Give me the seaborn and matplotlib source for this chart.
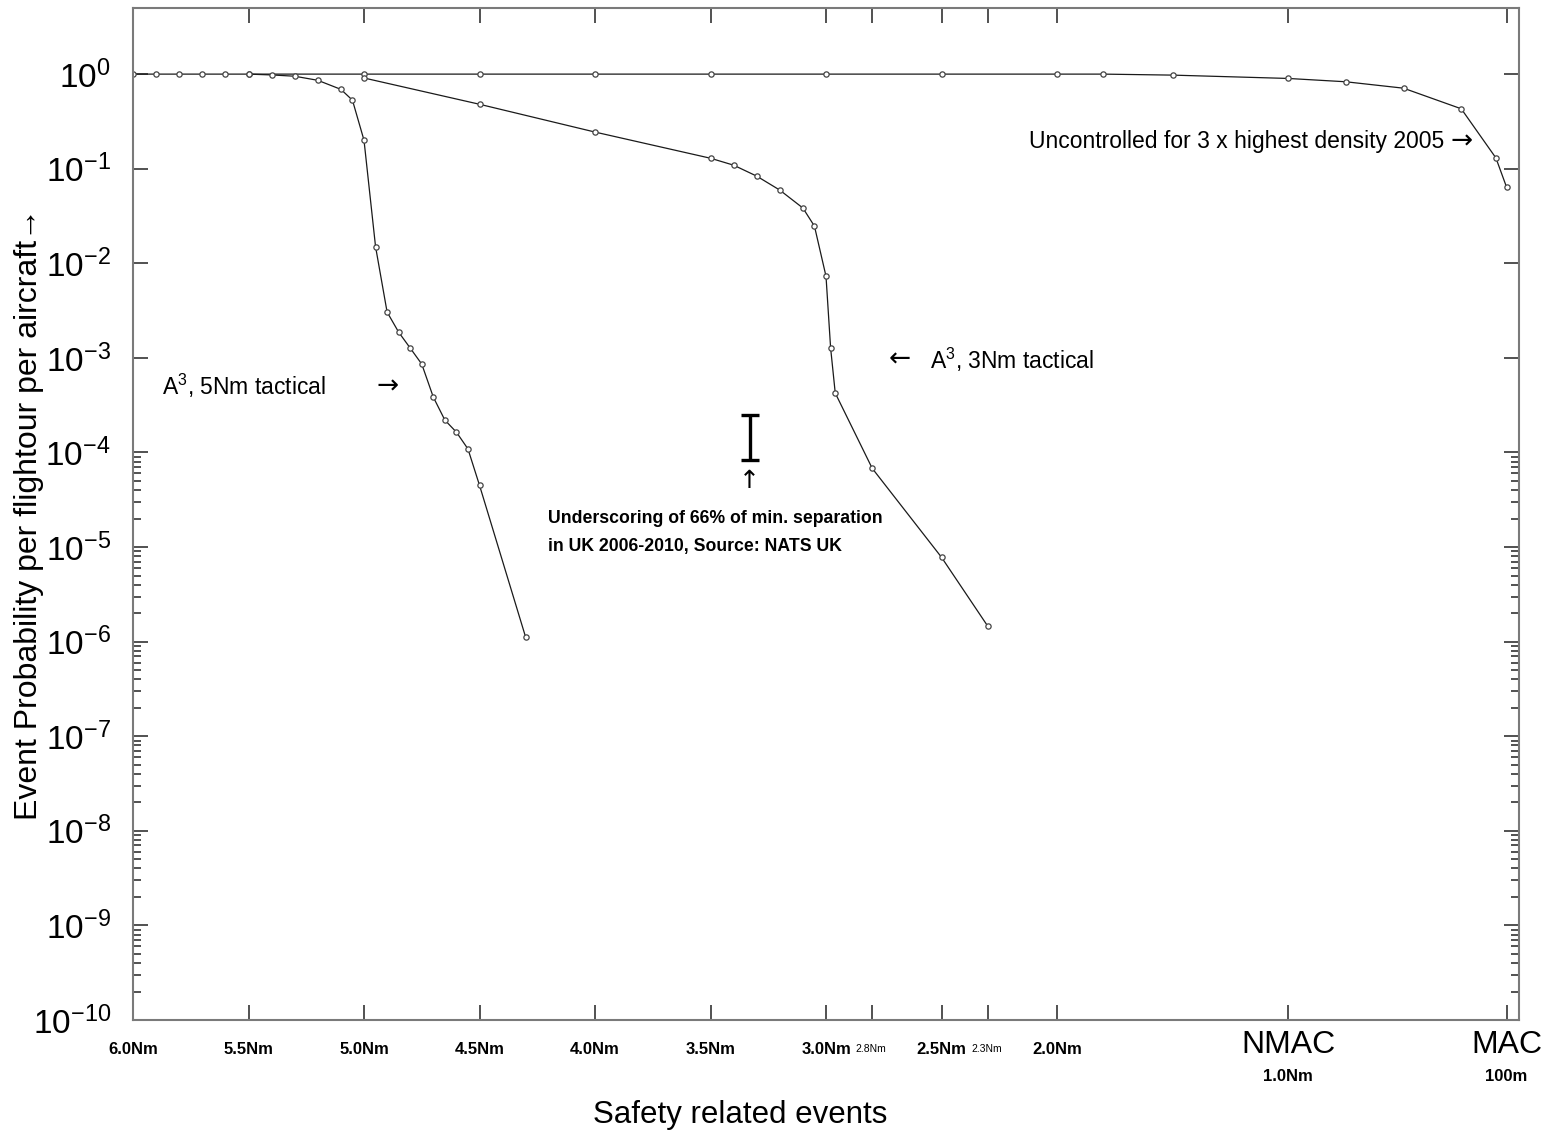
import numpy as np
import pandas as pd
import matplotlib
matplotlib.use("Agg")
import matplotlib.pyplot as plt
import seaborn as sns
from matplotlib.ticker import FixedLocator, NullFormatter

# ---------------- data ----------------
unc_nm = [6.0, 5.9, 5.8, 5.7, 5.6, 5.5, 5.0, 4.5, 4.0, 3.5, 3.0, 2.5, 2.0, 1.8,
          1.5, 1.0, 0.75, 0.5, 0.25, 0.1, 0.054]
unc_p = [1.0, 1.0, 1.0, 1.0, 1.0, 1.0, 1.0, 1.0, 1.0, 1.0, 1.0, 1.0, 1.0, 1.0,
         0.976, 0.90, 0.83, 0.71, 0.43, 0.13, 0.064]

a5_nm = [5.5, 5.4, 5.3, 5.2, 5.1, 5.05, 5.0, 4.95, 4.9, 4.85, 4.8, 4.75, 4.7,
         4.65, 4.6, 4.55, 4.5, 4.3]
a5_p = [1.0, 0.98, 0.95, 0.86, 0.69, 0.53, 0.20, 0.015, 3.05e-3, 1.87e-3,
        1.27e-3, 8.6e-4, 3.85e-4, 2.2e-4, 1.64e-4, 1.09e-4, 4.5e-5, 1.11e-6]

a3_nm = [5.0, 4.5, 4.0, 3.5, 3.4, 3.3, 3.2, 3.1, 3.05, 3.0, 2.98, 2.96, 2.8,
         2.5, 2.3]
a3_p = [0.91, 0.48, 0.244, 0.129, 0.109, 0.0835, 0.0594, 0.0384, 0.0247,
        7.3e-3, 1.27e-3, 4.25e-4, 6.8e-5, 7.8e-6, 1.46e-6]

# NATS UK underscoring range
nats_nm = [3.33]
nats_lo = [8.3e-5]
nats_hi = [2.5e-4]

xtick_vals = [6.0, 5.5, 5.0, 4.5, 4.0, 3.5, 3.0, 2.5, 2.0]
xtick_labels = ["6.0Nm", "5.5Nm", "5.0Nm", "4.5Nm", "4.0Nm", "3.5Nm",
                "3.0Nm", "2.5Nm", "2.0Nm"]
small_tick_vals = [2.8, 2.3]
small_tick_labels = ["2.8Nm", "2.3Nm"]
big_tick_vals = [1.0, 0.054]
big_tick_labels = ["NMAC", "MAC"]
big_tick_sublabels = ["1.0Nm", "100m"]
ytick_exps = list(range(0, -11, -1))

# ---------------- style ----------------
sns.set_style("white")
plt.rcParams["font.family"] = ["Liberation Sans", "DejaVu Sans"]
plt.rcParams["mathtext.fontset"] = "custom"
plt.rcParams["mathtext.rm"] = "Liberation Sans"
plt.rcParams["mathtext.it"] = "Liberation Sans:italic"
plt.rcParams["mathtext.bf"] = "Liberation Sans:bold"
plt.rcParams["text.color"] = "black"
plt.rcParams["axes.labelcolor"] = "black"
plt.rcParams["xtick.color"] = "black"
plt.rcParams["ytick.color"] = "black"

ARROW = ["DejaVu Sans"]

fig = plt.figure(figsize=(15.45, 11.32), dpi=100)
ax = fig.add_axes([133 / 1545, 1 - 1020 / 1132, 1386 / 1545, 1012 / 1132])
ax.set_yscale("log")

line_kw = dict(estimator=None, sort=False, marker="o", color="#1a1a1a",
               linewidth=0.9, markersize=3.8, markerfacecolor="white",
               markeredgecolor="#444444", markeredgewidth=0.9, ax=ax)
sns.lineplot(x=unc_nm, y=unc_p, **line_kw)
sns.lineplot(x=a5_nm, y=a5_p, **line_kw)
sns.lineplot(x=a3_nm, y=a3_p, **line_kw)

# NATS bar
nats_c = np.sqrt(np.array(nats_lo) * np.array(nats_hi))
ax.errorbar(nats_nm, nats_c,
            yerr=[nats_c - np.array(nats_lo), np.array(nats_hi) - nats_c],
            fmt="none", ecolor="black", elinewidth=2.4, capsize=6.5,
            capthick=2.4)

ax.set_xlim(6.0, 0.0)
ax.set_ylim(1e-10, 5.0)

# ticks
all_x = xtick_vals + small_tick_vals + big_tick_vals
ax.set_xticks(all_x)
ax.set_xticklabels([])
ax.set_yticks([10.0 ** e for e in ytick_exps])
ax.set_yticklabels([r"$\mathregular{10^{%d}}$" % e for e in ytick_exps],
                   fontsize=24)
minor = [m * 10.0 ** e for e in range(-10, -4) for m in range(2, 10)]
ax.yaxis.set_minor_locator(FixedLocator(minor))
ax.yaxis.set_minor_formatter(NullFormatter())
ax.tick_params(axis="both", which="major", direction="in", length=11,
               width=1.1, color="#222222", top=True, right=True,
               bottom=True, left=True)
ax.tick_params(axis="y", which="major", pad=16)
ax.tick_params(axis="y", which="minor", direction="in", length=6,
               width=1.1, color="#222222", left=True, right=True)
for s in ax.spines.values():
    s.set_color("#7a7a7a")
    s.set_linewidth(1.5)

xa = ("data", "axes fraction")
for v, t in zip(xtick_vals, xtick_labels):
    ax.annotate(t, xy=(v, 0), xycoords=xa, xytext=(0, -21),
                textcoords="offset points", ha="center", va="center",
                fontsize=12, fontweight="bold")
for v, t in zip(small_tick_vals, small_tick_labels):
    ax.annotate(t, xy=(v, 0), xycoords=xa, xytext=(-1, -21),
                textcoords="offset points", ha="center", va="center",
                fontsize=7.5)
for v, t, st in zip(big_tick_vals, big_tick_labels, big_tick_sublabels):
    ax.annotate(t, xy=(v, 0), xycoords=xa, xytext=(0, -18),
                textcoords="offset points", ha="center", va="center",
                fontsize=23)
    ax.annotate(st, xy=(v, 0), xycoords=xa, xytext=(0, -41),
                textcoords="offset points", ha="center", va="center",
                fontsize=12, fontweight="bold")

ax.set_xlabel("Safety related events", fontsize=22.5)
ax.xaxis.set_label_coords(0.438, -0.079)
ax.set_ylabel("Event Probability per flightour per aircraft\u2192",
              fontsize=23, family=["Liberation Sans", "DejaVu Sans"])
ax.yaxis.set_label_coords(-0.064, 0.5)

# annotations
ax.text(2.121, 0.196, "Uncontrolled for 3 x highest density 2005",
        fontsize=16.5, ha="left", va="center")
ax.text(0.247, 0.196, "\u2192", fontsize=19, ha="center", va="center",
        family=ARROW)
ax.text(5.874, 5.0e-4, r"A$^{\mathregular{3}}$, 5Nm tactical",
        fontsize=16.5, ha="left", va="center")
ax.text(4.90, 5.0e-4, "\u2192", fontsize=19, ha="center", va="center",
        family=ARROW)
ax.text(2.68, 9.5e-4, "\u2190", fontsize=19, ha="center", va="center",
        family=ARROW)
ax.text(2.55, 9.5e-4, r"A$^{\mathregular{3}}$, 3Nm tactical",
        fontsize=16.5, ha="left", va="center")
ax.text(3.33, 5.0e-5, "\u2191", fontsize=18, ha="center", va="center",
        family=ARROW)
ax.text(4.203, 1.98e-5, "Underscoring of 66% of min. separation",
        fontsize=12.7, fontweight="bold", ha="left", va="center")
ax.text(4.203, 1.02e-5, "in UK 2006-2010, Source: NATS UK",
        fontsize=12.7, fontweight="bold", ha="left", va="center")

fig.savefig("out.png", dpi=100)
